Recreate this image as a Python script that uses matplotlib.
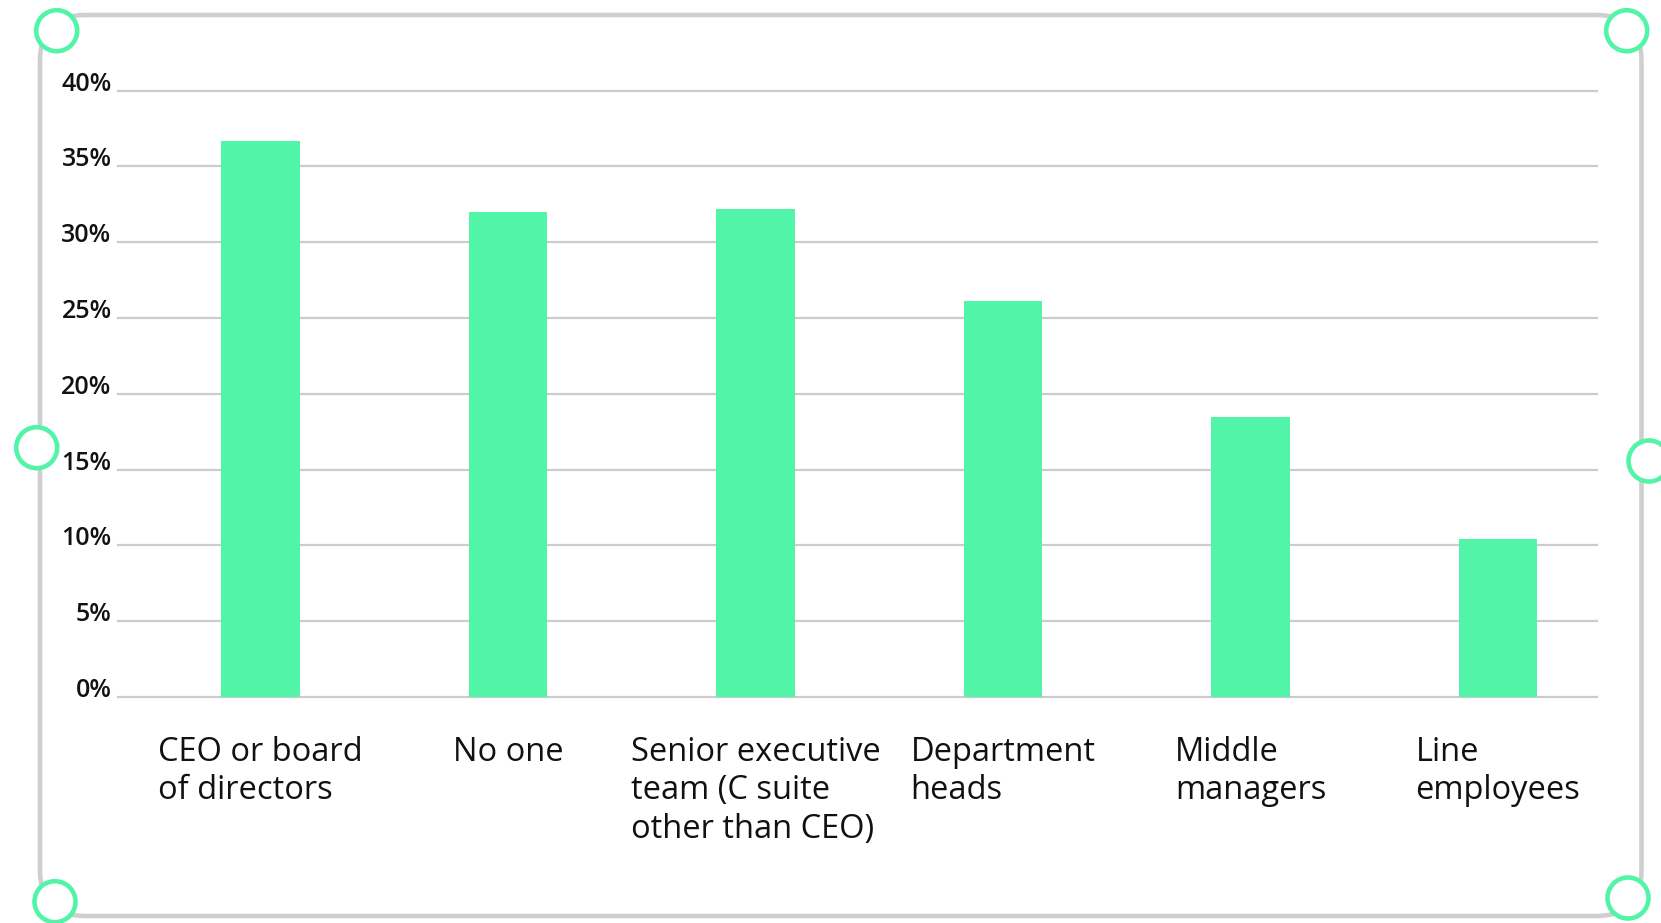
import numpy as np
import matplotlib
matplotlib.use("Agg")
import matplotlib.pyplot as plt
from matplotlib.patches import FancyBboxPatch, Circle

categories = ["CEO or board\nof directors", "No one",
              "Senior executive\nteam (C suite\nother than CEO)",
              "Department\nheads", "Middle\nmanagers", "Line\nemployees"]
values = [36.7, 32.0, 32.2, 26.1, 18.5, 10.4]
yticks = [0, 5, 10, 15, 20, 25, 30, 35, 40]
ytick_labels = [f"{v}%" for v in yticks]

GREEN = "#52F5A7"
GRID = "#cccccc"
W, H = 1661, 923

plt.rcParams['font.family'] = ['Open Sans', 'DejaVu Sans']

fig = plt.figure(figsize=(W / 100, H / 100), dpi=100)
fig.patch.set_facecolor("white")

ax_l, ax_r, ax_t, ax_b = 118.5, 1596.5, 90.7, 697
ax = fig.add_axes([ax_l / W, (H - ax_b) / H, (ax_r - ax_l) / W, (ax_b - ax_t) / H])

x = np.arange(len(values))
ax.bar(x, values, width=0.317, color=GREEN, zorder=3)
ax.set_xlim(-0.574, 5.398)
ax.set_ylim(0, 40)

ax.set_yticks(yticks)
ax.set_yticklabels(ytick_labels, fontsize=18, color="#111111", fontweight="semibold")
for t in ax.get_yticklabels():
    t.set_va("baseline")
ax.set_xticks(x)
ax.set_xticklabels(categories, fontsize=23.5, color="#111111", ha="center",
                   multialignment="left", linespacing=1.22, va="top")

ax.yaxis.grid(True, color=GRID, linewidth=1.6)
ax.xaxis.grid(False)
ax.set_axisbelow(True)
for gl in ax.get_ygridlines():
    gl.set_clip_on(False)
for s in ax.spines.values():
    s.set_visible(False)
ax.tick_params(axis="y", length=0, pad=5)
ax.tick_params(axis="x", length=0, pad=28)

# rounded frame
fl, fr, ft, fb = 40, 1641.5, 15, 916
frame = FancyBboxPatch((fl / 100, (H - fb) / 100), (fr - fl) / 100, (fb - ft) / 100,
                       boxstyle="round,pad=0,rounding_size=0.45",
                       transform=fig.dpi_scale_trans, fill=False,
                       ec="#cfcfcf", lw=3.3, zorder=1)
fig.add_artist(frame)

for cx, cy in [(56.7, 30.7), (1626.7, 30.7), (36.7, 447.7), (1649, 461),
               (55, 901.7), (1628, 898)]:
    c = Circle((cx / 100, (H - cy) / 100), 0.205, transform=fig.dpi_scale_trans,
               fc="white", ec=GREEN, lw=3.3, zorder=5)
    fig.add_artist(c)

fig.savefig("out.png", dpi=100, facecolor="white")
